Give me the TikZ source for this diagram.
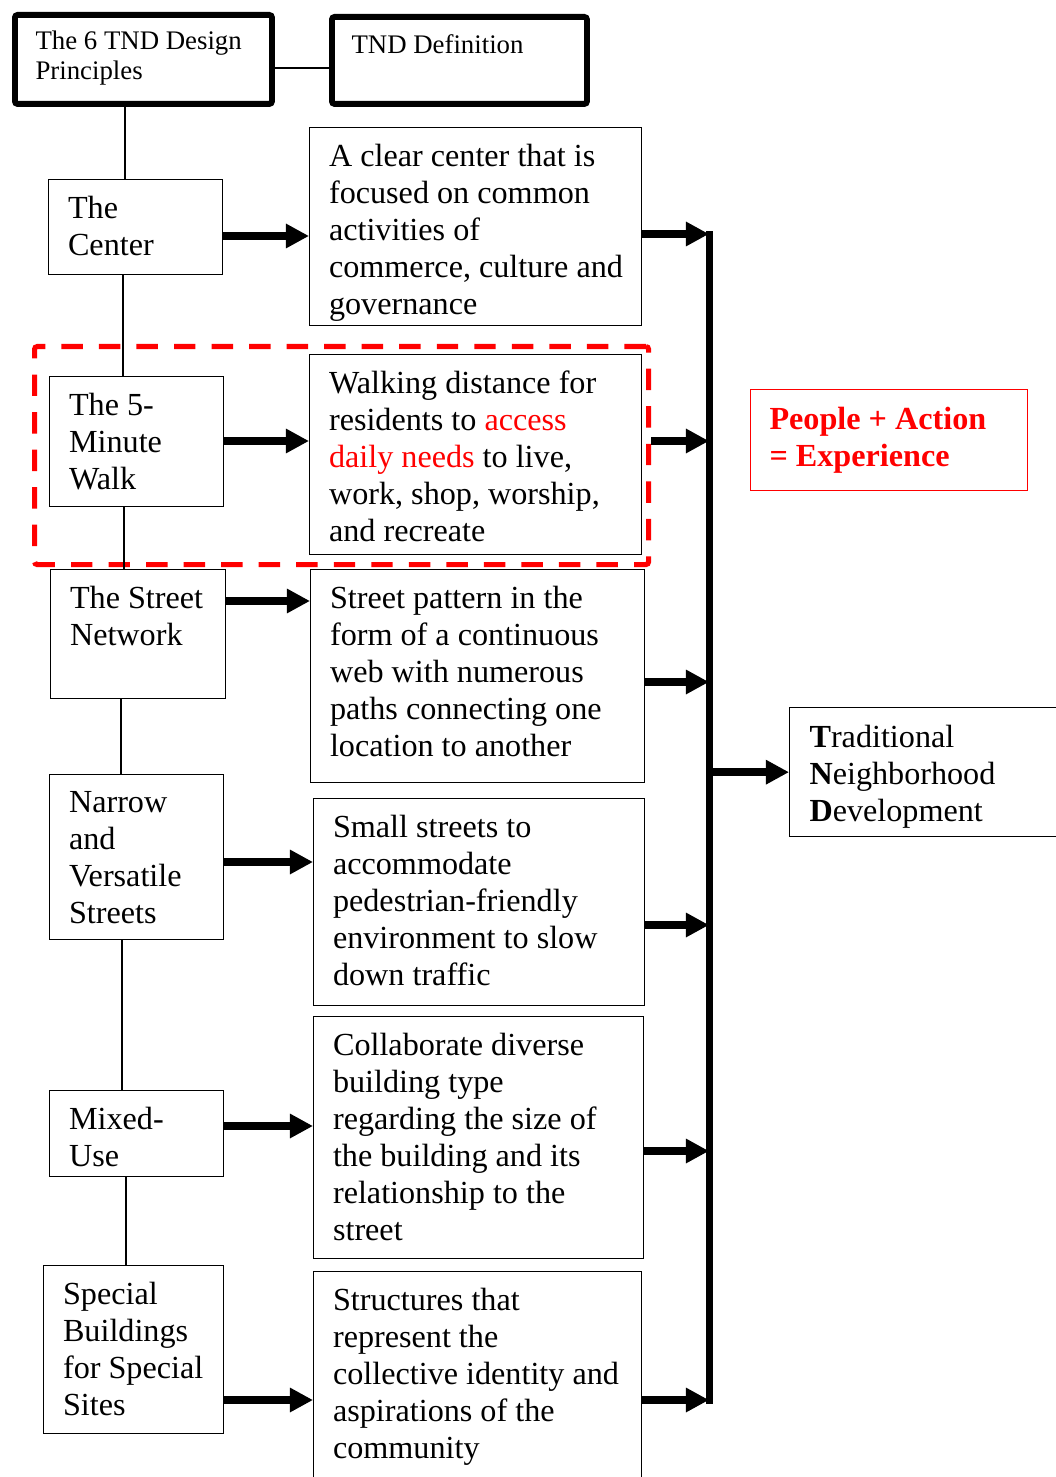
\documentclass[tikz,border=0pt]{standalone}
\usepackage{fontspec}
\setmainfont{Liberation Serif}
\usetikzlibrary{calc,positioning,arrows.meta}

\newcommand{\pxu}{0.373pt}

\tikzset{
  box/.style={rectangle,draw=black,line width=0.5pt,anchor=north west,inner sep=0pt},
  topbox/.style={rectangle,draw=black,line width=2.2pt,rounded corners=1pt,anchor=north west,inner sep=0pt},
  txt/.style={anchor=north west,inner sep=0pt,align=left,font=\fontsize{12}{13.8}\selectfont,execute at begin node=\strut},
  toptxt/.style={anchor=north west,inner sep=0pt,align=left,font=\fontsize{10}{11.5}\selectfont,execute at begin node=\strut},
  link/.style={draw=black,line width=0.6pt},
  flow/.style={line width=3pt,-{Triangle[length=8.6pt,width=8.6pt]}},
  bus/.style={line width=2.6pt,line cap=rect},
  frm/.style={rectangle,draw=red,line width=1.9pt,dash pattern=on 8pt off 6pt,rounded corners=1pt,anchor=north west,inner sep=0pt}
}

\begin{document}
\begin{tikzpicture}[x=\pxu,y=-\pxu]

  \useasboundingbox (0,0) rectangle (1055,1477);

  %% header boxes
  \node (topL) [topbox,minimum width=257*\pxu,minimum height=89*\pxu] at (12,12) {};
  \node (topL_t) [toptxt] at ($(topL.north west)+(23,18)$) {The 6 TND Design\\Principles};
  \node (topR) [topbox,minimum width=255*\pxu,minimum height=87*\pxu] at (329,14) {};
  \node (topR_t) [toptxt] at ($(topR.north west)+(22,17)$) {TND Definition};

  %% highlight round the 5-minute walk
  \node (walkfrm) [frm,minimum width=614*\pxu,minimum height=218*\pxu] at (32,344) {};

  %% principles (left) and definitions (right)
  \foreach \nm/\x/\y/\w/\h/\lbl in {
      ctr/48/179/174/95/{The\\Center},
      walk/49/376/174/130/{The 5-\\Minute\\Walk},
      net/50/569/175/129/{The Street\\Network},
      nvs/49/774/174/165/{Narrow\\and\\Versatile\\Streets},
      mix/49/1090/174/86/{Mixed-\\Use},
      spec/43/1265/180/168/{Special\\Buildings\\for Special\\Sites},
      dctr/309/127/332/198/{A clear center that is\\focused on common\\activities of\\commerce, culture and\\governance},
      dwalk/309/354/332/200/{Walking distance for\\residents to \textcolor{red}{access}\\\textcolor{red}{daily needs} to live,\\work, shop, worship,\\and recreate},
      dnet/310/569/334/213/{Street pattern in the\\form of a continuous\\web with numerous\\paths connecting one\\location to another},
      dnvs/313/798/331/207/{Small streets to\\accommodate\\pedestrian-friendly\\environment to slow\\down traffic},
      dmix/313/1016/330/242/{Collaborate diverse\\building type\\regarding the size of\\the building and its\\relationship to the\\street},
      dspec/313/1271/328/212/{Structures that\\represent the\\collective identity and\\aspirations of the\\community}}
  {
    \node (\nm) [box,minimum width=\w*\pxu,minimum height=\h*\pxu] at (\x,\y) {};
    \node (\nm_t) [txt] at ($(\nm.north west)+(19.5,16.8)$) {\lbl};
  }

  %% result and formula
  \node (tnd) [box,minimum width=275*\pxu,minimum height=129*\pxu] at (789,707) {};
  \node (tnd_t) [txt] at ($(tnd.north west)+(20,17.6)$) {\textbf{T}raditional\\\textbf{N}eighborhood\\\textbf{D}evelopment};
  \node (pax) [box,draw=red,minimum width=277*\pxu,minimum height=101*\pxu] at (750,389) {};
  \node (pax_t) [txt,text=red,font=\fontsize{12}{13.8}\selectfont\bfseries] at ($(pax.north west)+(19,18)$) {People + Action\\= Experience};

  %% thin links
  \draw [link] (topL.east |- 0,68) -- (topR.west |- 0,68);
  \draw [link] (topL.south -| 125,0) -- (ctr.north -| 125,0);
  \foreach \a/\b/\xx in {ctr/walk/123, walk/net/124, net/nvs/121, nvs/mix/122, mix/spec/126}
    \draw [link] (\a.south -| \xx,0) -- (\b.north -| \xx,0);

  %% principle -> definition
  \foreach \a/\b/\yy in {ctr/dctr/236, walk/dwalk/441, net/dnet/601, nvs/dnvs/862, mix/dmix/1126, spec/dspec/1400}
    \draw [flow] (\a.east |- 0,\yy) -- (\b.west |- 0,\yy);

  %% definition -> bus -> TND
  \coordinate (bustop) at (709,234);
  \coordinate (busbot) at (709,1400);
  \draw [bus] (bustop) -- (busbot);
  \foreach \a/\yy in {dctr/234, walkfrm/441, dnet/682, dnvs/925, dmix/1151, dspec/1400}
    \draw [flow] (\a.east |- 0,\yy) -- (bustop |- 0,\yy);
  \draw [flow] (bustop |- tnd.west) -- (tnd.west);

\end{tikzpicture}
\end{document}
